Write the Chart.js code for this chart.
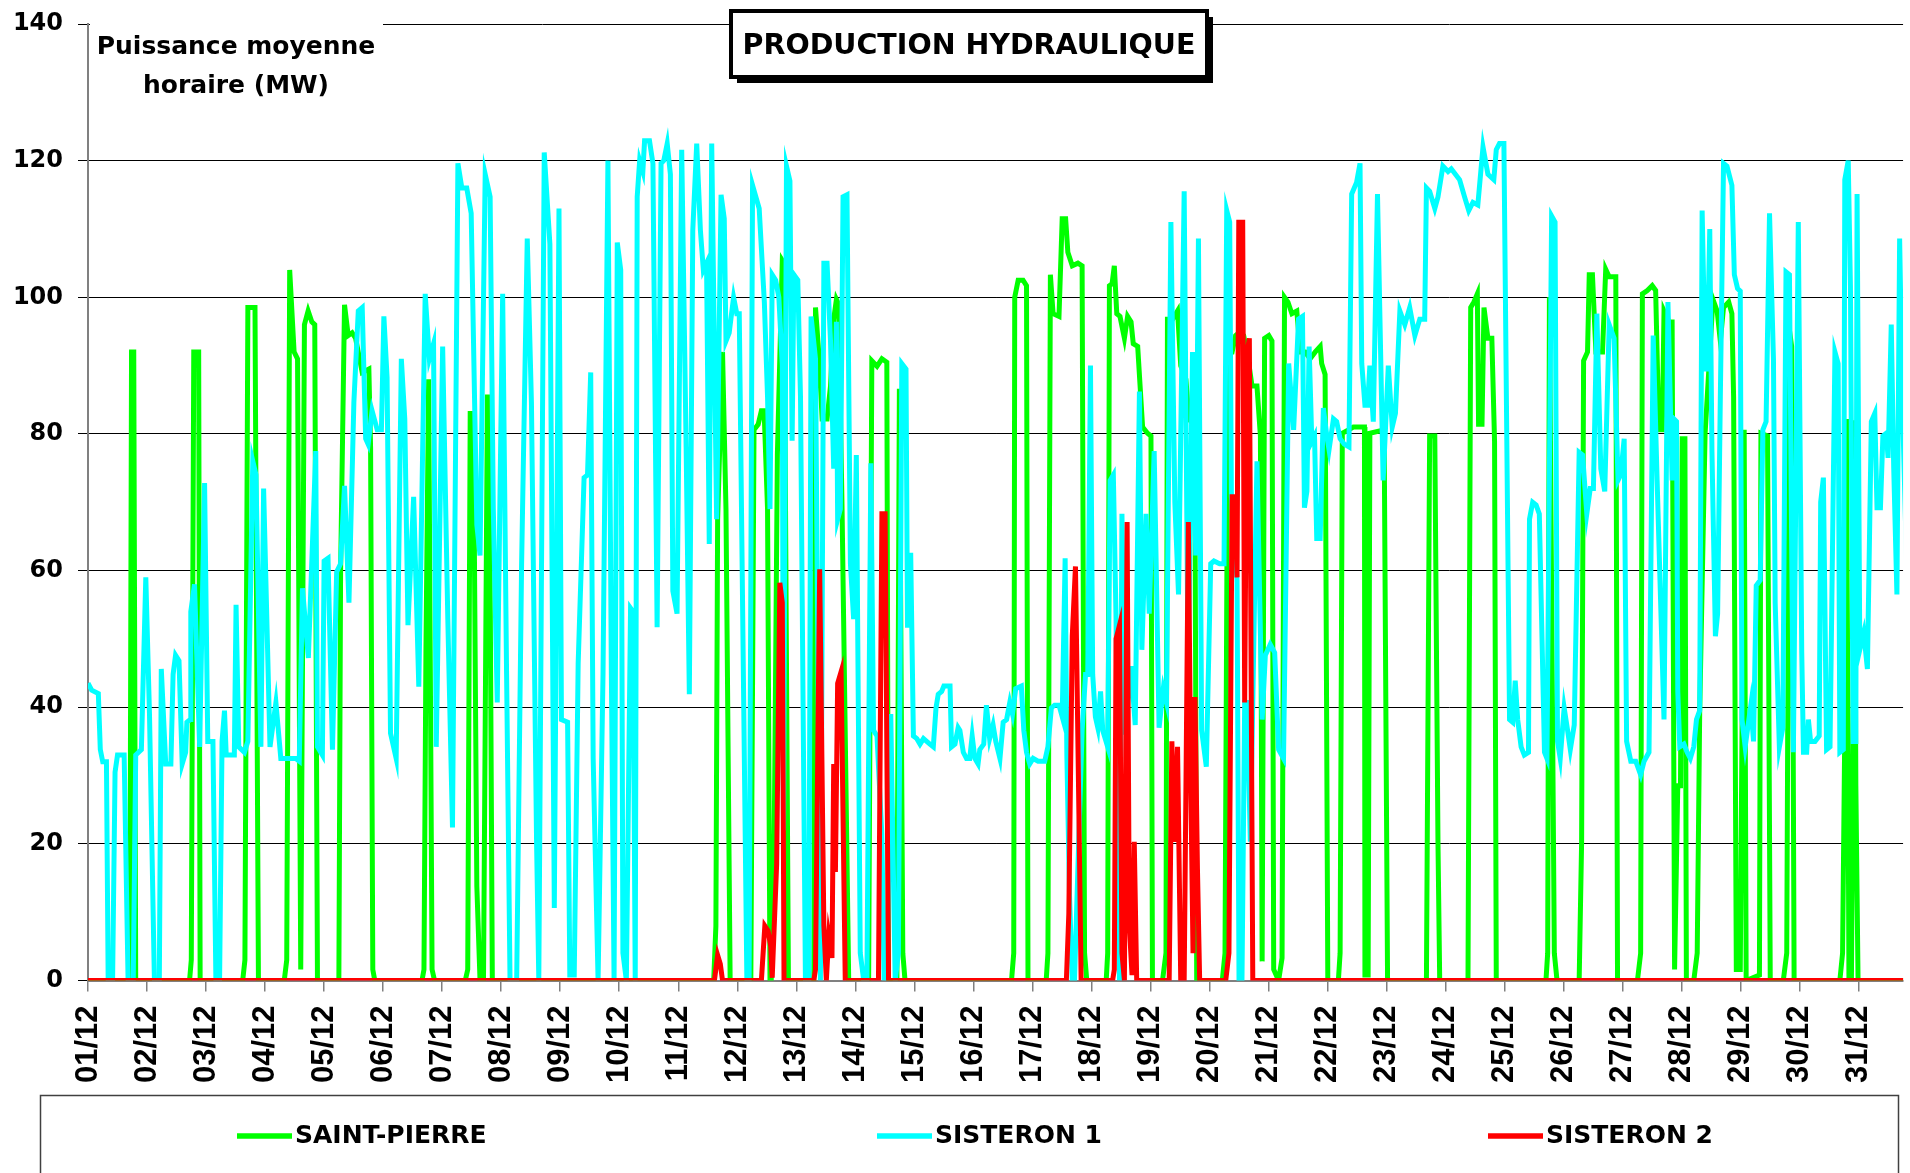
<!DOCTYPE html>
<html>
<head>
<meta charset="utf-8">
<script src="https://cdn.jsdelivr.net/npm/chart.js@4.4.1/dist/chart.umd.min.js"></script>
<style>
  html, body { margin: 0; padding: 0; background: #fff; }
  #wrap { width: 1910px; height: 1173px; }
</style>
</head>
<body>
<div id="wrap"><canvas id="myChart" width="1910" height="1173"></canvas></div>
<script>
const days = [
  "01/12", "02/12", "03/12", "04/12", "05/12", "06/12", "07/12", "08/12",
  "09/12", "10/12", "11/12", "12/12", "13/12", "14/12", "15/12", "16/12",
  "17/12", "18/12", "19/12", "20/12", "21/12", "22/12", "23/12", "24/12",
  "25/12", "26/12", "27/12", "28/12", "29/12", "30/12", "31/12",
];
const yTicks = [0, 20, 40, 60, 80, 100, 120, 140];
const seriesNames = ["SAINT-PIERRE", "SISTERON 1", "SISTERON 2"];

// [hour since 01/12 00:00, MW]
const saintPierre = [
  [0,0],[17,0],[17.7,92],[18.6,92],[19.4,0],
  [41.3,0],[42,3],[43,92],[45,92],[45.6,0],
  [62.9,0],[63.8,3],[65,98.5],[67.9,98.5],[69.3,0],
  [79.8,0],[80.8,3],[82,104],[83.8,92],[85.2,91],[86.5,1.6],[88,96],[89.5,98],[91,96.4],[92.2,96],[93.3,0],
  [102,0],[102.7,59.8],[104.3,98.9],[105.8,94.4],[107.4,94.8],[108.8,94],[111.5,89],[114.2,89.5],[114.9,78],[115.8,1.6],[116.6,0],
  [135.8,0],[136.6,1.6],[137.4,48],[138.5,88],[139.9,1.6],[140.9,0],
  [153.4,0],[154.4,1.6],[155.4,83],[156.7,83],[158.1,13.8],[159.4,0],
  [160.8,0],[162.4,85.4],[163.1,85.4],[164.4,0],
  [254.4,0],[255.3,8],[256,67.5],[258,92],[259.4,69],[261.1,0],
  [269.5,0],[270.8,80.6],[272.5,81.4],[273.8,83.4],[274.9,83.4],[276.3,69],[277.3,0],
  [277.8,0],[279,20],[280.3,77],[282.3,105.4],[283,105],[284.8,0],
  [295.1,0],[295.8,98.5],[297.1,92],[298.5,82.2],[300.5,82.2],[301.9,87],[303.2,96.8],[304.3,99.7],[305.2,99],[306.6,69],[309.3,0],
  [317.4,0],[318.7,90.7],[320.8,89.9],[322.8,91],[324.8,90.5],[325.5,0],
  [328.9,0],[329.9,86.6],[331.3,4],[332.2,0],
  [375.5,0],[376.4,4],[376.8,100],[378.2,102.5],[380.2,102.5],[381.6,101.7],[382.2,0],
  [389.6,0],[390.3,4],[391.3,103.3],[392.4,97.6],[394.8,97.2],[396.1,111.5],[397.5,111.5],[398.4,106.6],[400.2,104.6],[402.5,105],[404.2,104.6],[405.2,4],[406.1,0],
  [414,0],[414.6,4],[415.3,101.7],[416.4,102],[417.3,104.6],[418.3,97.6],[419.6,97.2],[421.4,94],[422.7,97.2],[424.1,96.4],[425,93.2],[426.8,92.8],[428.8,81],[430.8,80.1],[432.2,79.7],[432.8,0],
  [436.9,0],[438.3,4],[438.9,96.8],[441,96.8],[443,98],[444.3,90],[446.4,88],[447.7,82.2],[450,81],[450.8,0],
  [461.2,0],[462.3,4],[463.2,69],[463.9,92],[465.2,92],[466.6,94.4],[467.9,94.8],[469.9,94.4],[471.3,92],[473.3,87],[475.3,87],[476.7,79.7],[477.4,2.8],[478.4,94],[480.1,94.4],[481.4,93.6],[482.1,1.6],[484.1,0],
  [485.5,3.3],[486.5,100],[487.9,99.3],[489.5,97.6],[491.5,98],[492.9,92],[494.9,92],[496.9,91],[499,92],[501,92.8],[501.6,90.3],[503,88.7],[504.1,0],
  [508.4,0],[509.1,4],[510,80.1],[512.5,80.6],[514.5,81],[519,81],[519.2,0.8],[520.5,0.8],[521.2,80.1],[527,80.6],[528.4,0],
  [544.2,0],[545.5,79.7],[547.6,79.7],[548.9,20],[549.6,0],
  [561.1,0],[562.2,98.5],[563.5,99.3],[564.9,100.5],[565.4,81.4],[566.8,81.4],[567.6,98.5],[569.2,94],[570.8,94],[571.9,78.9],[572.6,0],
  [592.8,0],[593.5,4],[594.2,100],[596.2,4],[597.3,0],
  [606.3,0],[607.3,20.3],[608.1,90.7],[609.7,92],[610.4,103.3],[611.7,103.3],[613.1,92],[615.8,92],[617.1,104.1],[618.5,103],[621.2,103],[621.9,0],
  [630,0],[631.3,4],[632,100.5],[634,101],[636,101.7],[637.4,101],[638.7,80.6],[640.1,80.6],[640.8,98],[642.8,96.4],[644.1,96.4],[645.1,1.6],[646.4,28.5],[647.5,28.5],[648.2,79.3],[649.3,79.3],[649.9,0],
  [652.9,0],[654.3,4],[655.3,39],[657.5,80],[660.7,99.7],[662.4,98],[663.7,93.6],[665,98.5],[667.1,99.3],[668.4,97.6],[669.1,85.4],[670.2,1.6],[671.8,1.6],[673.4,80.6],[674.2,0],
  [679.6,0.8],[680.2,80.1],[682.9,79.7],[684,0],
  [689.3,0],[690.7,4],[691.8,95.2],[692.7,92.8],[693.7,0],
  [712.3,0],[713.4,4],[714.3,36.6],[715,82.2],[716,0],[717,0],[717.7,36.6],[718.2,82],[718.8,28.5],[719.7,0],
  [740,0],
];

const sisteron1 = [
  [0,43.5],[1.5,42.5],[4.2,42],[5,33.8],[6,32],[7.5,32],[8.2,0],[10,0],[11,30.5],[12,33],[14.7,33],[16.3,0],[18.4,0],[19.4,33],[21.7,33.8],[23.5,59],
  [25,39],[27,0],[29,0],[29.8,45.6],[31.6,31.7],[33.7,31.7],[34.6,44.8],[35.6,47.6],[37,46.8],[38.3,31.7],[39.7,33.4],[40.2,37.8],[41.6,38.2],[41.8,54],[43.3,58],[45.4,34.2],[47.4,72.8],
  [48.7,35],[50.8,35],[52,0],[53.5,0],[54.5,35],[55.5,39.5],[56.2,33],[59.5,33],[60.2,55],[61.3,34.2],[63.6,33.4],[65,35],[67,76],[68.3,74],[70.3,34.2],[71.4,72],
  [74,34.2],[76.4,40.7],[78.4,32.5],[84.5,32.5],[85.9,32.1],[87.2,57.4],[89.6,47.2],[92.6,77.5],[93.3,34.2],[95.3,33],
  [96,61.4],[97.6,61.8],[99.4,33.8],[101.1,59.8],[102.7,61],[104.3,72.4],[106.1,55.3],[108.1,84.6],[109.9,98],[111.5,98.5],[112.9,79.3],[113.9,78.5],[115.5,83.4],[117.6,80.6],[119.3,80.6],
  [120.3,97.2],[121.6,88.3],[123,36.2],[125.3,32.5],[127.4,91],[128.8,82.2],[130.1,52],[132.4,70.8],[134.5,43],[137.1,100.5],[138.8,91],[140.5,93.2],[141.6,34.2],
  [144.2,92.8],[146.3,52.9],[148.2,22.4],[150.4,119.6],[152,116],[154,116],[155.8,112.3],[158.1,66.7],[159.4,62.2],[161.5,118],[163.5,114.7],[164.8,69],[166.4,40.7],
  [168.6,100.5],[170.2,44.8],[171.6,0],[174.3,0],[176.3,61],[178.6,108.6],[180.3,84.6],[182.4,20],[183.3,0],[185.5,121.2],[187.8,107.8],[189.6,10.6],[191.5,113],
  [192.5,38.2],[195,37.8],[195.9,0.8],[197.7,0.8],[199.3,46.4],[201.7,73.6],[203.1,74],[204.4,89],[205.4,32.5],[207.4,0],[209.4,44.8],[211.4,120],[212.8,44.8],[213.9,0],
  [215.2,108],[216.6,104],[217.5,4],[218.9,0],[220.6,54.5],[221.6,54],[222.5,0],[223.3,114.7],[224.3,120],[225.6,118.4],[226.3,122.9],[228.3,122.9],[229.7,119.6],[231.4,51.7],[233,119.6],[234.1,120],[235.5,122.5],[236.8,118],[237.8,57],[239.5,53.7],
  [241.4,121.6],[243.2,78.1],[244.5,41.9],[245.9,109.8],[247.5,122.5],[249,109.8],[250.2,104],[251.5,105],[252.6,63.9],[253.6,122.5],[255.6,67.5],[257.4,115],[258.7,111.5],[259.4,93.6],[260.7,94.8],[262.5,100],[263.8,97.6],
  [264.8,97.6],[267.9,0],[268.8,0],[270.2,116.4],[272.9,113],[275,99.3],[276.3,85.4],[277.3,69],[278.2,103.3],[279.6,102.5],[280.9,100],[282.3,90],[282.8,22],[284,119.2],[285.4,117],[286.3,79],[287,103.3],
  [288.6,102.5],[289.7,85.4],[291.7,0],[293.1,0],[294,97.2],[295.8,91],[297.8,0],[299.2,105],[300.5,105],[301.9,93.6],[303.2,74.9],[304.3,96.4],[304.8,67.5],[305.9,69],[307,114.7],[308.6,115],[310,61],[311.3,52.9],
  [312.4,76.9],[314,4],[315.4,0],[316.7,0],[318.3,75.7],[319.4,36.6],[320.8,35.8],[322.8,21.2],[323.7,0],[325.1,4],[326.4,39],[328.2,0],[329.5,4],[330.9,90.3],[332.6,89.5],[333.2,52],[334,52],[334.5,62.6],[335.6,35.8],
  [337,35.4],[338.3,34.6],[339.7,35.4],[341,35],[342.3,34.6],[343.7,34.2],[344.8,39.9],[345.7,41.9],[347.1,42.3],[348,43.1],[350.5,43.1],[351.1,34.2],[352.5,34.6],[353.8,37],[354.5,36.6],[355.9,33.4],[357.2,32.5],[358.5,32.5],[359.5,35.8],
  [360.6,32.5],[361.9,31.7],[362.6,33.8],[364.2,34.6],[365.3,40.3],[366.6,35.4],[368,37.4],[369.1,35],[370.8,32.5],[372.1,37.8],[373.5,38.2],[374.8,40.7],[375.9,39],[377.2,42.7],[379.5,43.1],[380.5,36.6],[381.6,33.4],[382.9,31.7],
  [384.3,32.5],[386.3,32.1],[389,32.1],[390.3,34.2],[391.7,39.9],[393,40.3],[394.8,40.3],[396.1,38.6],[397.3,61.8],[398,33],[399.1,12.2],[400.2,0],[401.1,0],[404.2,36.6],[405.6,44.8],[406.5,44.8],[407.6,90],
  [408.5,44.8],[409.6,38.6],[410.6,37],[411.7,42.3],[412.6,36.6],[414.6,34.2],[415.6,73.2],[416.9,74],[418,52.9],[419.4,0],[420.4,68.3],[421.6,36],[424.1,46],[425.8,37.4],[427.5,86.2],[428.5,48.4],[430.2,68.3],[431.5,53.7],
  [433.5,77.5],[435.5,37],[437.2,42.7],[438.5,40.7],[440.3,111],[441.9,70],[443.4,56.5],[445.7,115.5],[447.3,44.8],[449.1,92],[450.4,62.2],[451.5,108.6],[452.8,36.6],[454.7,31.3],
  [456.5,61],[457.8,61.4],[460.1,61],[461.9,61],[463,112.7],[464.2,111],[464.9,70.8],[467.2,58.6],[468,0],[469.2,0],[470.3,40.7],[471.3,40.7],[472.6,20.3],[475.3,76],[477.4,38.2],[478.7,47.6],
  [480.7,49.2],[482.5,48],[484.1,33.8],[486.1,32.5],[488.2,90.3],[490.2,80.6],[492.2,96.8],[493.8,97.2],[494.6,69.2],[495.6,71.6],[496.5,92.8],[497.6,78.9],[498.7,79.7],[499.6,64.7],[501,64.7],[502.3,83.8],[503.7,79.7],
  [504.6,77.7],[506.4,82.2],[507.7,81.8],[509.1,79.3],[510.8,78.5],[512.7,78.1],[513.8,115.1],[515.8,116.8],[517.2,119.6],[517.9,90.3],[519.2,84.2],[520.3,84.2],[521.2,90],[522.6,81.8],[524.3,115.1],[526.6,73.2],
  [528.7,90],[530.3,81],[531.6,83],[533.4,98],[535.4,96],[537.4,98.5],[539.5,94.4],[541.5,96.8],[543.5,96.8],[544.2,116],[545.5,115.5],[547.6,113],[548.9,114.7],[550.9,119.2],
  [553,118.4],[554.3,118.8],[557.7,117.2],[559.7,114.7],[561.4,112.7],[563.1,113.9],[565.1,113.5],[567.2,122],[569.2,118],[571.6,117.2],[572.6,121.6],[573.9,122.5],[575.7,122.5],
  [578,38.2],[579.3,37.8],[580.3,43.9],[581.3,38.2],[582.7,34.2],[584,33],[585.7,33.4],[586.1,67.5],[587.4,70],[588.8,69.6],[590.1,68.3],[592.2,33.4],[593.2,32.5],[595.1,111.9],[596.5,111],[597.5,35],[598.6,32.5],
  [600.2,39.9],[601.6,36.6],[602.7,33.8],[604.3,37.4],[606.3,77.3],[607.7,76.9],[609.4,68.3],[610.8,72],[612.1,72],[613.5,97.6],[615.1,74.9],[616.7,71.6],[618.5,96],[620.5,94],[622.1,73.2],[623.2,74],
  [624.6,79.3],[625.6,35],[627.3,32.1],[629.3,32.1],[631.3,30.1],[632.7,32.1],[634.7,33.4],[636.4,94.4],[638,73.2],[640.8,38.2],[642.4,99.3],[644.1,73.2],[644.8,82.2],[645.9,81.8],[646.4,42.3],[647.2,34.2],
  [648.9,34.6],[650.2,33.4],[651.5,32.5],[652.9,34.2],[654,38.2],[655.3,39.5],[656.3,112.7],[657.6,89.5],[658.3,89.5],[659.4,110],[660.3,77.3],[661.7,50.4],[662.6,53.7],[663.7,85.4],[665,119.6],[666.4,119.2],
  [668.4,116.4],[669.4,103.3],[670.7,101.3],[671.8,100.9],[672.5,38.2],[673.8,34.2],[676.1,40.3],[677.2,35],[678.3,57.8],[679.9,58.6],[681,80.6],[682.3,81.8],[683.7,112.3],[685.3,91],[686,55.3],[687.7,34.2],
  [689.1,37],[690.4,103.7],[691.8,103.3],[693.4,33.4],[695.4,111],[696.8,48],[697.5,33.4],[698.8,33.4],[699.5,38.2],[700.4,35],[702.2,35],[703.9,35.8],[704.5,70],[705.6,73.6],[706.9,33.8],[708.3,34.2],
  [710.3,92],[711.6,90.3],[712.3,33.4],[713.7,33.8],[714.3,117.2],[715.7,120],[716.6,101.7],[717.7,35],[718.8,35],[719.3,115.1],[720.4,48.4],[722,50.9],[723.5,45.6],[725.1,81.8],[726.5,83],[727.4,69.2],
  [728.8,69.2],[729.8,79.7],[731.2,80.1],[731.9,76.5],[733.2,96],[734.2,75],[735.5,56.5],[736.6,108.6],[737.7,85],[739.5,60],
];

const sisteron2 = [
  [0,0],[254.7,0],[256,3.7],[257.1,2.4],[258,0],
  [273.8,0],[275.2,8],[276.5,7.3],[277.6,5],[278.2,0.4],[280,17],[281.3,58.2],[282.3,55.3],[283,0],
  [295.1,0],[295.8,1.6],[297.5,60.2],[299.2,8],[300.2,0],[301.2,6.5],[302.5,3.3],[303.2,31.7],[303.9,15.9],[304.8,43.5],[306.2,45.2],[307.9,0],
  [321.4,0],[322.8,68.3],[324.1,68.3],[325.5,0],
  [397.8,0],[398.8,9.8],[400.2,50.4],[401.5,60.6],[402.9,24.4],[403.8,0],
  [416.6,0],[417.3,1.6],[418,50],[419.4,52],[420.4,4],[421.4,0],[422.5,67.1],[423.4,8],[424.5,0.8],[425.4,20.3],[426.4,0],
  [439.6,0],[440.7,35],[441.6,20.3],[443,34.2],[444.3,0],[445.7,0],[447.4,67.1],[448.4,28.5],[449.3,4],[450.1,41.5],[451.1,16.3],[452,0],
  [462.6,0],[463.9,4],[465.2,70.8],[466.6,70.8],[467.2,59],[467.9,111],[469.5,111],[470.3,40.7],[471.3,92],[472.2,94],[473.6,0],
  [740,0],
];

const toPoints = (arr) => arr.map(([h, mw]) => ({ x: h, y: mw }));

// caption + boxed title drawn over the top gridline
const titleBoxes = {
  id: "titleBoxes",
  afterDraw(chart) {
    const ctx = chart.ctx;
    ctx.save();
    ctx.fillStyle = "#fff";
    ctx.fillRect(90, 0, 293, 105);
    ctx.fillStyle = "#000";
    ctx.font = "bold 25px 'DejaVu Sans'";
    ctx.textAlign = "center";
    ctx.textBaseline = "middle";
    ctx.fillText("Puissance moyenne", 236, 47);
    ctx.fillText("horaire (MW)", 236, 86);

    ctx.fillStyle = "#000";
    ctx.fillRect(737, 17, 476, 66);
    ctx.fillStyle = "#fff";
    ctx.fillRect(731, 11, 476, 66);
    ctx.lineWidth = 4;
    ctx.strokeStyle = "#000";
    ctx.strokeRect(731, 11, 476, 66);
    ctx.fillStyle = "#000";
    ctx.font = "bold 28.5px 'DejaVu Sans'";
    ctx.fillText("PRODUCTION HYDRAULIQUE", 969, 47);
    ctx.restore();
  },
};

// wide legend box at the bottom, items spread like the original
const bottomLegend = {
  id: "bottomLegend",
  afterDraw(chart) {
    const ctx = chart.ctx;
    const starts = [237, 877, 1488];
    ctx.save();
    ctx.strokeStyle = "#404040";
    ctx.lineWidth = 1.5;
    ctx.strokeRect(40.5, 1095.5, 1858, 120);
    ctx.font = "bold 25px 'DejaVu Sans'";
    ctx.textBaseline = "middle";
    ctx.textAlign = "left";
    chart.data.datasets.forEach((ds, i) => {
      const x = starts[i];
      const y = 1136;
      ctx.strokeStyle = ds.borderColor;
      ctx.lineWidth = 5.5;
      ctx.beginPath();
      ctx.moveTo(x, y);
      ctx.lineTo(x + 55, y);
      ctx.stroke();
      ctx.fillStyle = "#000";
      ctx.fillText(ds.label, x + 58, y);
    });
    ctx.restore();
  },
};

const ctx = document.getElementById("myChart").getContext("2d");

const hydroChart = new Chart(ctx, {
  type: "line",
  data: {
    datasets: [
      {
        label: seriesNames[0],
        data: toPoints(saintPierre),
        borderColor: "#00FF00",
        order: 2,
      },
      {
        label: seriesNames[1],
        data: toPoints(sisteron1),
        borderColor: "#00FFFF",
        order: 1,
      },
      {
        label: seriesNames[2],
        data: toPoints(sisteron2),
        borderColor: "#FF0000",
        order: 0,
      },
    ],
  },
  options: {
    responsive: false,
    animation: false,
    events: [],
    elements: {
      line: { borderWidth: 5, tension: 0, fill: false },
      point: { radius: 0 },
    },
    layout: {
      padding: { top: 24, bottom: 79, left: 0, right: 0 },
    },
    plugins: {
      legend: { display: false },
      tooltip: { enabled: false },
    },
    scales: {
      x: {
        type: "linear",
        position: "bottom",
        min: 0,
        max: 738,
        bounds: "data",
        afterBuildTicks: (scale) => {
          scale.ticks = days.map((d, i) => ({ value: i * 24 }));
        },
        afterFit: (scale) => {
          scale.height = 113.5;
        },
        grid: {
          drawOnChartArea: false,
          drawTicks: true,
          tickLength: 11,
          color: "#808080",
          lineWidth: 1.5,
        },
        border: { color: "#808080", width: 2 },
        ticks: {
          autoSkip: false,
          maxRotation: 90,
          minRotation: 90,
          padding: 14,
          color: "#000",
          font: { family: "'Liberation Sans'", size: 31, weight: "bold" },
          callback: (value, index) => days[index],
        },
      },
      y: {
        min: 0,
        max: 140,
        afterBuildTicks: (scale) => {
          scale.ticks = yTicks.map((v) => ({ value: v }));
        },
        afterFit: (scale) => {
          scale.width = 88;
          scale.paddingTop = 12;
          scale.paddingBottom = 12;
        },
        grid: {
          color: "#000",
          lineWidth: 1,
          drawTicks: true,
          tickLength: 10,
        },
        border: { color: "#808080", width: 2 },
        ticks: {
          padding: 15,
          color: "#000",
          font: { family: "'DejaVu Sans'", size: 24, weight: "bold" },
        },
      },
    },
  },
  plugins: [titleBoxes, bottomLegend],
});
</script>
</body>
</html>
